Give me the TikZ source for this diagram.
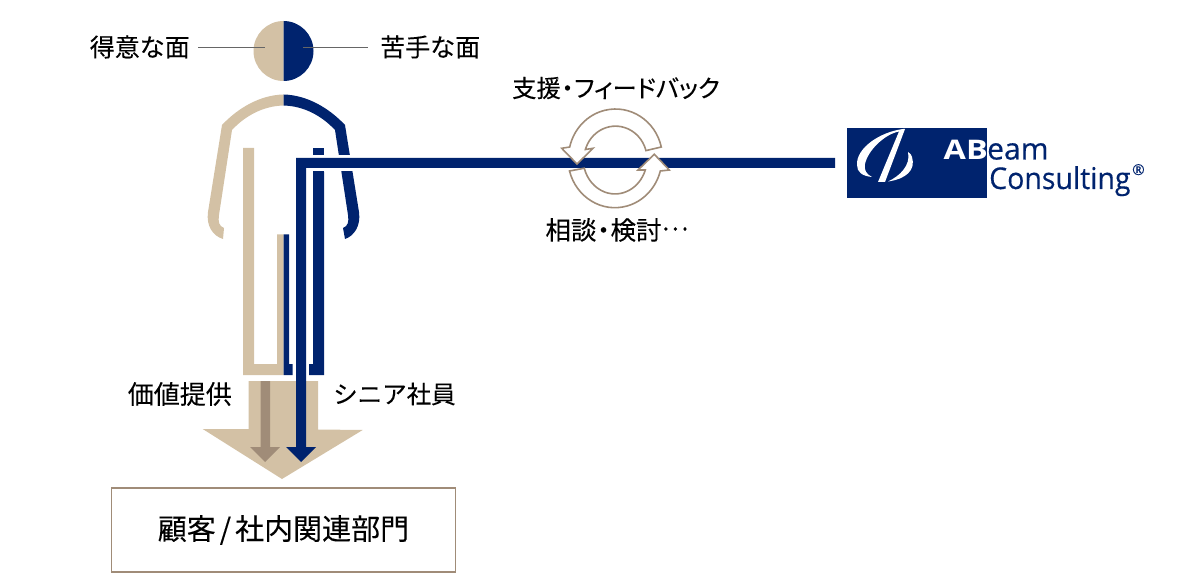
\documentclass[tikz,border=0pt]{standalone}
\usepackage{fontspec}
\setmainfont{Noto Sans CJK JP}[FakeBold=0.15]
\newfontfamily\logofont[FakeBold=0.3]{Open Sans}
\newfontfamily\logonarrow[FakeStretch=0.95,FakeBold=0.3]{Open Sans}
\newfontfamily\logowide[FakeStretch=1.2]{Open Sans}
\definecolor{sand}{HTML}{D3C1A5}
\definecolor{navy}{HTML}{00236E}
\definecolor{umber}{HTML}{A08C78}
\newcommand{\midot}{\makebox[0.55em]{・}}
\newcommand{\tightkana}[1]{{\addfontfeature{RawFeature=+palt}#1}}
\tikzset{
	label text/.style={inner sep=0pt, font=\fontsize{#1}{#1}\selectfont},
	leader/.style={draw=black!60, line width=0.8pt},
	loop arrow/.style={draw=umber, fill=white, line width=1.6pt, line join=miter},
	logo text/.style={inner sep=0pt, text=navy, anchor=base west, font=\fontsize{#1}{#1}\selectfont},
}
\begin{document}
\begin{tikzpicture}[x=1pt, y=-1pt]
	\useasboundingbox (0,0) rectangle (1200,588);

	% head
	\fill[sand] (283.5,21) arc[start angle=90, end angle=270, radius=30pt] -- cycle;
	\fill[navy] (283.5,21) arc[start angle=90, end angle=-90, radius=30pt] -- cycle;

	% labels
	\node [label text=25, anchor=east] (strong) at (190,47) {得意な面};
	\node [label text=25, anchor=west] (weak) at (380,47) {苦手な面};
	\node [label text=24.3] (support) at (616,88) {支援\midot\tightkana{フィードバック}};
	\node [label text=25.5] (consult) at (617,230) {相談\midot 検討\raisebox{0.36em}{…}};
	\node [label text=26, anchor=east] (value) at (232,394) {価値提供};
	\node [label text=24.5, anchor=west] (senior) at (333,394) {シニア社員};
	\node [draw=umber, line width=1.5pt, minimum width=344pt, minimum height=84pt, inner sep=0pt, font=\fontsize{29}{29}\selectfont] (client) at (283.5,530) {顧客\kern4pt/\kern4pt 社内関連部門};

	\coordinate (strong end) at (198,47.5);
	\coordinate (strong in) at (265,47.5);
	\coordinate (weak in) at (303,47.5);
	\coordinate (weak end) at (368,47.5);
	\draw[leader] (strong end) -- (strong in);
	\draw[leader] (weak in) -- (weak end);

	% arms
	\fill[sand] (283.5,94.5) .. controls (260,95) and (238,108) .. (222,125) -- (208,212)
		.. controls (206,226) and (213,236) .. (223,239) -- (224,228)
		.. controls (219,226) and (218,222) .. (219,215) -- (232,130)
		.. controls (245,116) and (263,106) .. (283.5,105.5) -- cycle;
	\fill[navy] (283.5,94.5) .. controls (307,95) and (329,108) .. (345,125) -- (359,212)
		.. controls (361,226) and (354,236) .. (345,239) -- (343,228)
		.. controls (348,226) and (349,222) .. (348,215) -- (335,130)
		.. controls (322,116) and (304,106) .. (283.5,105.5) -- cycle;

	% legs
	\fill[sand] (243,148) -- (254,148) -- (254,364) -- (277,364) -- (277,234.5) -- (283.5,234.5) -- (283.5,375) -- (243,375) -- cycle;
	\fill[navy] (283.5,234.5) -- (289,234.5) -- (289,364) -- (292.7,364) -- (292.7,375) -- (283.5,375) -- cycle;
	\fill[navy] (313,148) rectangle (324,172);
	\fill[navy] (313,172) -- (324,172) -- (324,375) -- (309,375) -- (309,364) -- (313,364) -- cycle;

	% big arrow
	\fill[sand] (248.7,381) -- (318,381) -- (318,429.5) -- (362.7,430) -- (282,479) -- (202.7,429) -- (248.7,429) -- cycle;
	\fill[umber] (260.7,381) -- (270,381) -- (270,447) -- (280,447) -- (265,462) -- (250,447) -- (260.7,447) -- cycle;

	% logo
	\node [fill=navy, minimum width=140pt, minimum height=70pt, inner sep=0pt] (logo) at (917,163) {};
	\coordinate (bar end) at (835,163);
	\draw[white, line width=16.5pt] (296,163) -- (bar end);
	\fill[navy] (296,447) -- (296,158) -- (bar end |- 0,158) -- (bar end |- 0,168) -- (306,168) -- (306,447) -- (316,447) -- (301,462) -- (286,447) -- cycle;

	\fill[white] (903,129) .. controls (880,132) and (856,148) .. (857,165)
		.. controls (857,172) and (862,176) .. (872,177) .. controls (866,174) and (864,170) .. (865,164)
		.. controls (868,150) and (885,134) .. (899,131.5) -- (878,182) -- (885,182) -- (905,129) -- cycle;
	\fill[white] (908,152) .. controls (911,165) and (900,176) .. (888,181.5)
		.. controls (906,179) and (916,170) .. (912,157) .. controls (911.5,155) and (910,153) .. (908,152) -- cycle;
	\node [logo text=27, text=white] (logo a) at (943.5,159.5) {\logowide\textbf{AB}};
	\node [logo text=30] (logo b) at (987,159.5) {\logofont eam};
	\node [logo text=30] (logo c) at (989,189) {\logonarrow Consulting};
	\node [logo text=15] (logo r) at (1132,175) {\logofont ®};

	% feedback loop
	\draw[loop arrow] (661.3,147) arc[start angle=13, end angle=167, x radius=47pt, y radius=49pt] -- (561.7,148.3) -- (577,164) -- (593,148.3) -- (585.4,149.5)
		arc[start angle=163, end angle=15, x radius=31.5pt, y radius=33pt] -- cycle;
	\draw[loop arrow] (569.5,171) arc[start angle=195, end angle=345, x radius=47pt, y radius=49.5pt] -- (669.3,170) -- (654.3,154.3) -- (638,170) -- (645.3,170)
		arc[start angle=341, end angle=196, x radius=32pt, y radius=35.5pt] -- cycle;
\end{tikzpicture}
\end{document}
